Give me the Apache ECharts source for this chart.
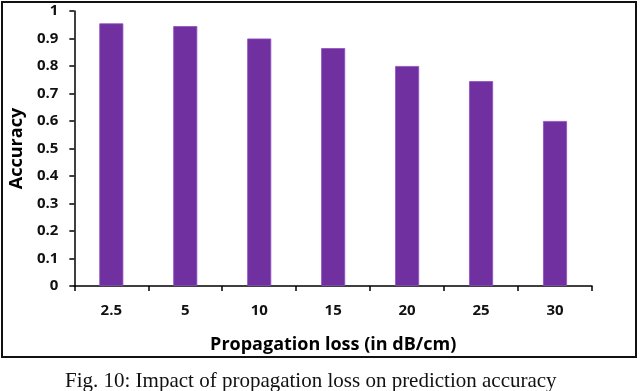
<!DOCTYPE html>
<html>
<head>
<meta charset="utf-8">
<script src="https://cdn.jsdelivr.net/npm/echarts@6/dist/echarts.min.js"></script>
<style>
  html, body { margin: 0; padding: 0; background: #fff; }
  #chart { width: 640px; height: 391px; }
</style>
</head>
<body>
<div id="chart"></div>
<script>
// propagation loss categories (dB/cm) and accuracy
const lossLabels = ['2.5', '5', '10', '15', '20', '25', '30'];
const accuracy = [0.955, 0.945, 0.9, 0.865, 0.8, 0.745, 0.6];
const yTicks = { min: 0, max: 1, step: 0.1 };

const chart = echarts.init(document.getElementById('chart'));
const labelFont = '"Open Sans", "DejaVu Sans", sans-serif';

chart.setOption({
    animation: false,
    backgroundColor: '#fff',
    title: {
        text: 'Fig. 10: Impact of propagation loss on prediction accuracy',
        left: 60,
        top: 366,
        textStyle: {
            fontFamily: '"Liberation Serif", serif',
            fontWeight: 'normal',
            fontSize: 21,
            color: '#111'
        }
    },
    graphic: [{
        type: 'rect',
        shape: { x: 2, y: 2, width: 634, height: 355 },
        style: { fill: 'none', stroke: '#111', lineWidth: 2 },
        silent: true
    }],
    grid: { left: 72, right: 48, top: 11, bottom: 105 },
    xAxis: {
        type: 'category',
        data: lossLabels,
        name: 'Propagation loss (in dB/cm)',
        nameLocation: 'middle',
        nameGap: 50,
        nameTextStyle: { fontFamily: labelFont, fontWeight: 'bold', fontSize: 18, color: '#000' },
        axisLine: { lineStyle: { color: '#000', width: 1.5 } },
        axisTick: { show: true, length: 5, lineStyle: { color: '#000', width: 1.5 } },
        axisLabel: { fontFamily: labelFont, fontWeight: 'bold', fontSize: 15, color: '#111', margin: 17 }
    },
    yAxis: {
        type: 'value',
        min: yTicks.min,
        max: yTicks.max,
        interval: yTicks.step,
        name: 'Accuracy',
        nameLocation: 'middle',
        nameGap: 48,
        nameRotate: 90,
        nameTextStyle: { fontFamily: labelFont, fontWeight: 'bold', fontSize: 18, color: '#000' },
        splitLine: { show: false },
        axisLine: { show: true, lineStyle: { color: '#000', width: 1.5 } },
        axisTick: { show: true, length: 5, lineStyle: { color: '#000', width: 1.5 } },
        axisLabel: { fontFamily: labelFont, fontWeight: 'bold', fontSize: 15, color: '#111', margin: 16 }
    },
    series: [{
        type: 'bar',
        data: accuracy,
        barWidth: 24,
        itemStyle: { color: '#7030a0', borderColor: '#8e4fc0', borderWidth: 0.8 }
    }]
});
</script>
</body>
</html>
